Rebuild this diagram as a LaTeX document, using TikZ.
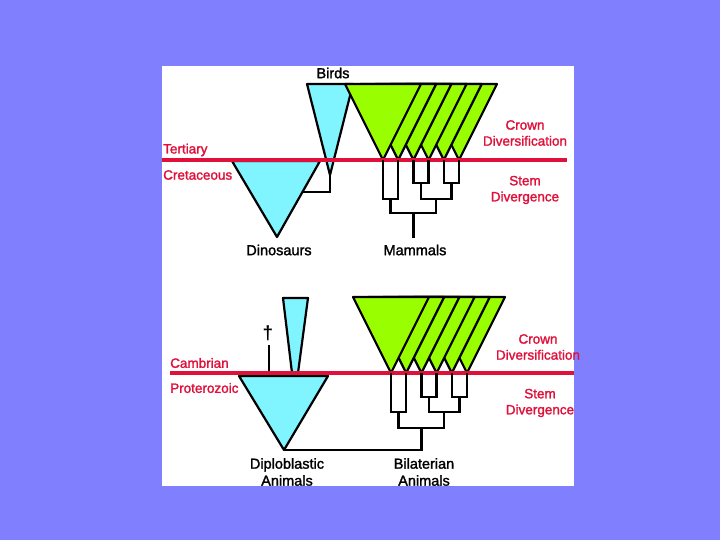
\documentclass[tikz,border=0pt]{standalone}
\usepackage{fontspec}
\setmainfont{Liberation Sans}
\newfontfamily\slidefont{Liberation Sans}[FakeBold=1.6]
\usetikzlibrary{calc}
\definecolor{SlideBlue}{HTML}{8080FF}
\definecolor{CladeCyan}{HTML}{80F4FF}
\definecolor{CrownGreen}{HTML}{99FF00}
\definecolor{EraRed}{HTML}{E0103A}
\tikzset{
  clade/.style={draw=black,line width=2.2pt,line join=round},
  branch/.style={draw=black,line width=2.4pt},
  boundary/.style={draw=EraRed,line width=3.2pt},
  taxon/.style={font=\slidefont\fontsize{14.5}{17}\selectfont,align=center,inner sep=0pt},
  era/.style={font=\slidefont\fontsize{13.5}{16}\selectfont,text=EraRed,align=center,inner sep=0pt},
}

\begin{document}
\begin{tikzpicture}[x=1pt,y=-1pt]
  \fill[SlideBlue] (0,0) rectangle (720,540);
  \useasboundingbox (0,0) rectangle (720,540);
  \fill[white] (162,66) rectangle (574,486);

  % upper panel: dinosaurs, birds, mammals
  \coordinate (dinoL) at (232,161);
  \coordinate (dinoR) at (320,161);
  \coordinate (dinoB) at (277,237);
  \filldraw[clade,fill=CladeCyan] (dinoL) -- (dinoR) -- (dinoB) -- cycle;
  \coordinate (birdB) at (330,175);
  \filldraw[clade,fill=CladeCyan] (307,84) -- (353,84) -- (birdB) -- cycle;
  \draw[branch] (birdB) |- ($(dinoR)!0.41!(dinoB)$);
  \foreach \i in {6,5,...,1} {
    \coordinate (m\i) at (383+15.2*\i-15.2,160);
    \filldraw[clade,fill=CrownGreen] (m\i) -- ++(-38,-76) -- ++(76,0) -- cycle;
  }
  \draw[boundary] (162,160) -- (567,160);
  \draw[branch] (m1) -- ++(0,39) -| (m2);
  \draw[branch] (m3) -- ++(0,23) -| (m4);
  \draw[branch] (m5) -- ++(0,23) -| (m6);
  \coordinate (p1) at ($(m1)!0.5!(m2)+(0,39)$);
  \coordinate (p2) at ($(m3)!0.5!(m4)+(0,23)$);
  \coordinate (p3) at ($(m5)!0.5!(m6)+(0,23)$);
  \draw[branch] (p2) -- ++(0,16) -| (p3);
  \coordinate (q23) at ($(p2)!0.5!(p3)+(0,16)$);
  \draw[branch] (p1) -- ++(0,14) -| (q23);
  \coordinate (root) at ($(p1)!0.5!(q23)+(0,14)$);
  \draw[branch] (root) -- ++(0,25);

  \node[taxon] (birds) at (333,73) {Birds};
  \node[taxon] (dinos) at (279,250) {Dinosaurs};
  \node[taxon] (mammals) at (415,250) {Mammals};
  \node[era,anchor=west] (tertiary) at (163,150) {Tertiary};
  \node[era,anchor=west] (cretaceous) at (163,175) {Cretaceous};
  \node[era] (crownA) at (525,133) {Crown\\Diversification};
  \node[era] (stemA) at (525,190) {Stem\\Divergence};

  % lower panel: diploblastic and bilaterian animals
  \coordinate (dipB) at (284,450);
  \filldraw[clade,fill=CladeCyan] (239,376) -- (328,376) -- (dipB) -- cycle;
  \filldraw[clade,fill=CladeCyan] (283,298) -- (308,298) -- (298,373) -- (292,373) -- cycle;
  \node[font=\bfseries\fontsize{19}{19}\selectfont,inner sep=0pt] (extinct) at (268,333) {†};
  \draw[branch] (269,345) -- (269,373);
  \foreach \i in {6,5,...,1} {
    \coordinate (n\i) at (391+15.2*\i-15.2,373);
    \filldraw[clade,fill=CrownGreen] (n\i) -- ++(-38,-76) -- ++(76,0) -- cycle;
  }
  \draw[boundary] (170,373) -- (574,373);
  \draw[branch] (n1) -- ++(0,39) -| (n2);
  \draw[branch] (n3) -- ++(0,24) -| (n4);
  \draw[branch] (n5) -- ++(0,24) -| (n6);
  \coordinate (s1) at ($(n1)!0.5!(n2)+(0,39)$);
  \coordinate (s2) at ($(n3)!0.5!(n4)+(0,24)$);
  \coordinate (s3) at ($(n5)!0.5!(n6)+(0,24)$);
  \draw[branch] (s2) -- ++(0,15) -| (s3);
  \coordinate (t23) at ($(s2)!0.5!(s3)+(0,15)$);
  \draw[branch] (s1) -- ++(0,16) -| (t23);
  \coordinate (base) at ($(s1)!0.5!(t23)+(0,16)$);
  \draw[branch] (base) |- (dipB);

  \node[taxon] (diplo) at (287,472) {Diploblastic\\Animals};
  \node[taxon] (bilat) at (424,472) {Bilaterian\\Animals};
  \node[era,anchor=west] (cambrian) at (170,363) {Cambrian};
  \node[era,anchor=west] (proterozoic) at (170,388) {Proterozoic};
  \node[era] (crownB) at (538,347) {Crown\\Diversification};
  \node[era] (stemB) at (540,403) {Stem\\Divergence};
\end{tikzpicture}
\end{document}
